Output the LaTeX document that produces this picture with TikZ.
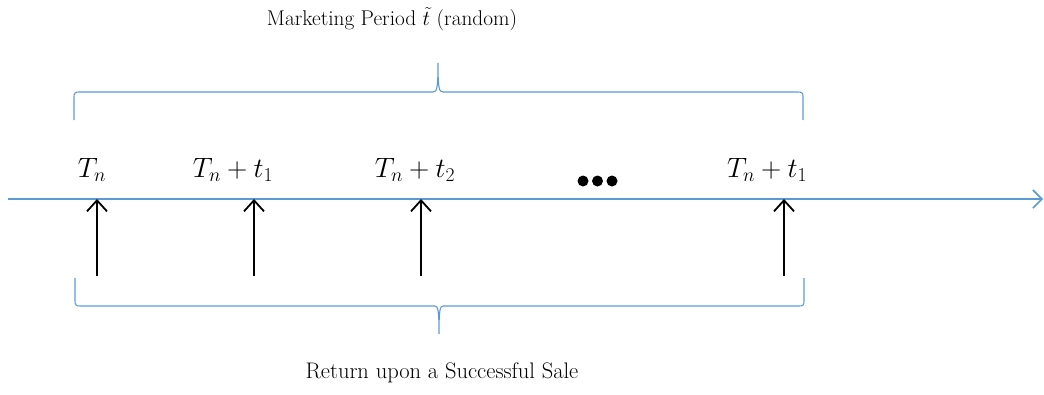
\RequirePackage{fix-cm}
\documentclass[tikz,border=0pt]{standalone}
\usetikzlibrary{arrows.meta}
\definecolor{axisblue}{HTML}{5B9BD5}
\begin{document}
\begin{tikzpicture}[x=1pt,y=-1pt,
  axis/.style={draw=axisblue,line width=1.6pt,-{Straight Barb[length=9pt,width=18pt,line width=1.6pt]}},
  bracepath/.style={draw=axisblue,line width=1.1pt},
  uparrow/.style={draw=black,line width=1.8pt,-{Straight Barb[length=11pt,width=20pt,line width=1.8pt]}},
  mlabel/.style={anchor=base,inner sep=0pt,font=\fontsize{28}{32}\selectfont},
  tlabel/.style={inner sep=0pt}]
\useasboundingbox (0,0) rectangle (1044,394);
% axis
\coordinate (axstart) at (8,199);
\coordinate (axend) at (1043,199);
\draw[axis] (axstart) -- (axend);
% top brace
\draw[bracepath] (74,120) -- (74,97) .. controls (74,93) and (75,92) .. (79,92) -- (433,92)
  .. controls (437,92) and (438,88) .. (438,63) .. controls (438,88) and (439,92) .. (443,92)
  -- (798,92) .. controls (802,92) and (803,93) .. (803,97) -- (803,120);
% bottom brace
\draw[bracepath] (75,278) -- (75,301) .. controls (75,305) and (76,306) .. (80,306) -- (435,306)
  .. controls (438,306) and (439,310) .. (439,334) .. controls (439,310) and (440,306) .. (443,306)
  -- (799,306) .. controls (803,306) and (804,305) .. (804,301) -- (804,278);
% texts
\node[tlabel,font=\fontsize{21.3}{25}\selectfont] (top) at (392,19) {Marketing Period $\tilde{t}$ (random)};
\node[tlabel,font=\fontsize{22.5}{27}\selectfont] (bottom) at (442,373) {Return upon a Successful Sale};
% math labels
\node[mlabel] (l0) at (92,177) {$T_n$};
\node[mlabel] (l1) at (233,177) {$T_n+t_1$};
\node[mlabel] (l2) at (415,177) {$T_n+t_2$};
\node[mlabel] (l3) at (767,177) {$T_n+t_1$};
% dots
\fill (583,181) circle (5.5pt) (597.5,181) circle (5.5pt) (612,181) circle (5.5pt);
% arrows
\foreach \i/\x in {0/97,1/254,2/421,3/784}{
  \coordinate (b\i) at (\x,276);
  \coordinate (t\i) at (\x,199);
  \draw[uparrow] (b\i) -- (t\i);
}
\end{tikzpicture}
\end{document}
